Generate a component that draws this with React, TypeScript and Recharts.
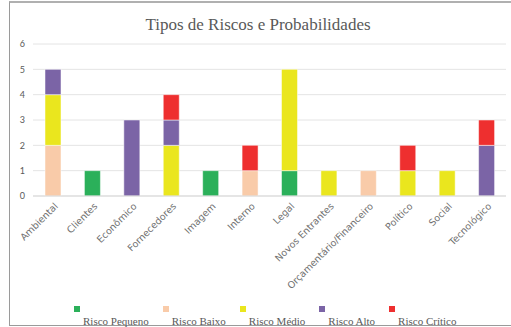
import { BarChart, Bar, CartesianGrid, XAxis, YAxis } from "recharts";

const categories = [
  "Ambiental",
  "Clientes",
  "Econômico",
  "Fornecedores",
  "Imagem",
  "Interno",
  "Legal",
  "Novos Entrantes",
  "Orçamentário/Financeiro",
  "Político",
  "Social",
  "Tecnológico",
];

const riscoPequeno = [0, 1, 0, 0, 1, 0, 1, 0, 0, 0, 0, 0];
const riscoBaixo = [2, 0, 0, 0, 0, 1, 0, 0, 1, 0, 0, 0];
const riscoMedio = [2, 0, 0, 2, 0, 0, 4, 1, 0, 1, 1, 0];
const riscoAlto = [1, 0, 3, 1, 0, 0, 0, 0, 0, 0, 0, 2];
const riscoCritico = [0, 0, 0, 1, 0, 1, 0, 0, 0, 1, 0, 1];

const yTicks = [0, 1, 2, 3, 4, 5, 6];

const series = [
  { key: "pequeno", name: "Risco Pequeno", color: "#2bb05a", values: riscoPequeno },
  { key: "baixo", name: "Risco Baixo", color: "#f9cba9", values: riscoBaixo },
  { key: "medio", name: "Risco Médio", color: "#eae61e", values: riscoMedio },
  { key: "alto", name: "Risco Alto", color: "#7b64a6", values: riscoAlto },
  { key: "critico", name: "Risco Crítico", color: "#ee2f2f", values: riscoCritico },
];

const data = categories.map((name, i) => {
  const row: Record<string, string | number> = { name };
  series.forEach((s) => {
    row[s.key] = s.values[i];
  });
  return row;
});

const CategoryTick = (props: any) => {
  const { x, y, payload } = props;
  return (
    <g transform={`translate(${x + 3},${y})`}>
      <text
        x={0}
        y={0}
        dy={4}
        textAnchor="end"
        transform="rotate(-45)"
        fill="#6f6f6f"
        fontSize={9.5}
        fontFamily="'DejaVu Sans', sans-serif"
      >
        {payload.value}
      </text>
    </g>
  );
};

const ChartLegend = () => (
  <div style={{ position: "absolute", left: 74, top: 306, display: "flex" }}>
    {series.map((s) => (
      <div key={s.key} style={{ marginRight: 14 }}>
        <div style={{ width: 6, height: 6, background: s.color }} />
        <div
          style={{
            paddingLeft: 9,
            marginTop: 3,
            fontFamily: "'Liberation Serif', serif",
            fontSize: 11,
            color: "#595959",
            whiteSpace: "nowrap",
            lineHeight: "12px",
          }}
        >
          {s.name}
        </div>
      </div>
    ))}
  </div>
);

const App = () => {
  return (
    <div style={{ position: "absolute", left: 0, top: 0, width: 511, height: 327, background: "#fff" }}>
      <div
        style={{
          position: "absolute",
          left: 9,
          top: 1,
          width: 502,
          height: 322,
          borderLeft: "1px solid #9a9a9a",
          borderTop: "2px solid #b0b0b0",
          borderBottom: "1px solid #9a9a9a",
        }}
      />
      <div
        style={{
          position: "absolute",
          left: 0,
          top: 15,
          width: 516,
          textAlign: "center",
          fontFamily: "'Liberation Serif', serif",
          fontSize: 17,
          color: "#595959",
        }}
      >
        Tipos de Riscos e Probabilidades
      </div>
      <BarChart
        width={511}
        height={327}
        data={data}
        margin={{ top: 44, right: 5, left: 12, bottom: 101 }}
        style={{ position: "absolute", left: 0, top: 0 }}
      >
        <CartesianGrid vertical={false} stroke="#e4e4e4" />
        <XAxis
          dataKey="name"
          interval={0}
          height={30}
          tickLine={false}
          axisLine={{ stroke: "#d9d9d9" }}
          tick={<CategoryTick />}
        />
        <YAxis
          width={21}
          domain={[0, 6]}
          ticks={yTicks}
          axisLine={false}
          tickLine={false}
          tick={{ fill: "#595959", fontSize: 9, fontFamily: "Lato, sans-serif" }}
        />
        {series.map((s) => (
          <Bar
            key={s.key}
            dataKey={s.key}
            name={s.name}
            stackId="a"
            fill={s.color}
            stroke="#ffffff"
            strokeWidth={0.5}
            barSize={16}
            isAnimationActive={false}
          />
        ))}
      </BarChart>
      <ChartLegend />
    </div>
  );
};

export default App;
